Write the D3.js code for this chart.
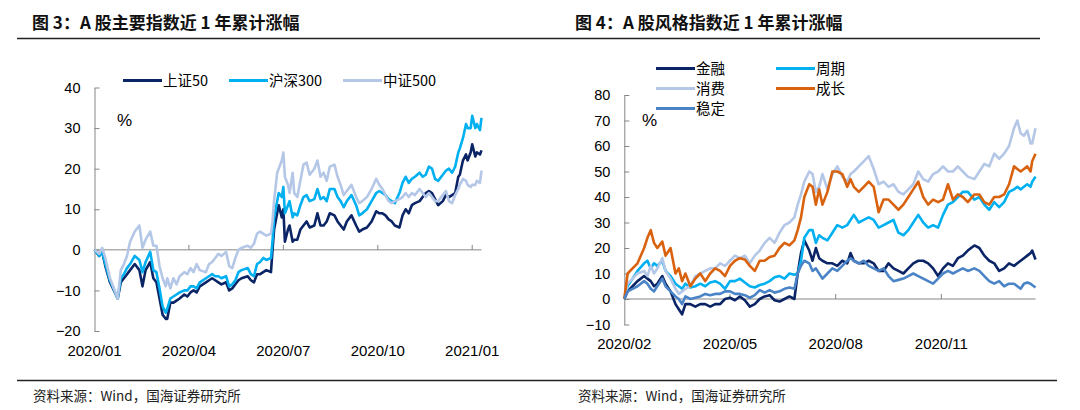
<!DOCTYPE html>
<html><head><meta charset="utf-8">
<script src="https://cdn.jsdelivr.net/npm/d3@7/dist/d3.min.js"></script>
<style>
body{margin:0;background:#fff;}
svg{display:block;}
.tick-label{font-family:Arial,"Liberation Sans",sans-serif;fill:#000;}
.cjk{font-family:"Noto Sans CJK SC","Noto Sans",sans-serif;}
</style></head>
<body>
<svg id="chart" width="1080" height="410"></svg>
<script>
// ---------- Figure 3: trading-day index since 2020-01-02 ----------
const leftDays = [0,3,5,7,10,15,17,19,21,23,26,29,31,33,36,38,40,42,44,46,47,49,51,53,55,58,60,62,64,66,68,72,74,76,78,80,82,85,87,89,91,93,95,99,101,103,105,107,109,111,114,115,116,118,119,121,122,123,125,126,128,129,131,133,135,137,139,142,144,146,148,150,152,155,157,159,161,163,166,169,171,173,176,179,182,184,186,188,190,192,194,197,199,201,203,205,207,210,212,214,216,218,220,222,225,227,229,231,233,235,236,238,240,241,243,244,246,247,249,250];
const sz50 = [0,-1.5,-0.5,-4,-8,-12,-8,-7,-6,-5,-3.5,-5,-9,-5,-3,-7,-8,-12,-16,-17,-17,-13,-13,-12.5,-12,-11,-11.5,-10.5,-10,-10.5,-9,-8,-7.5,-7,-7.5,-8,-8.5,-8,-10,-9.5,-8.5,-7.5,-7,-6.5,-7.5,-8,-6,-6,-5.5,-5,-5.5,0,5,9,11,8,10,2,5,6,2,2.5,2.5,5,6,7,5.5,6,9,6,6,7,9,8.5,7,6,5,7,8.5,6,4.5,5,5.5,7,9.5,9,9,8.5,7.5,7,6,5.5,8.5,10,9,11,11.5,12,13,14,14.5,14,12.5,11,12,13.5,13,13.5,14,18,18.5,22,23.5,22,24,26,23,24,23.5,24.5];
const hs300 = [0,-1.5,-0.5,-3.5,-7.5,-12,-7,-6,-4.5,-3.5,-1.5,-2.5,-5.5,-3,-0.5,-5,-5.5,-9.5,-14,-15.5,-14.5,-12,-11.5,-11,-10.5,-10,-10,-9,-9,-9.5,-8,-7,-6.5,-6,-6.5,-6.5,-7,-6.5,-9,-8.5,-7.5,-5.5,-5,-4.5,-6,-6.5,-3.5,-3,-2,-2.5,-2,2,8,12,14,13,15.5,9,11,12,8,9,8.5,11,13,13.5,12,12.5,15,12.5,13,12,15,15,13,12,10.5,12,13.5,11,8.5,9,10,12,14,14.5,14,13.5,12.5,12,11.5,14,16.5,18,16.5,17.5,18,19,18,18.5,20.5,20,17.5,17,18.5,19.5,20,19,20.5,24,25,27.5,31,30,30,33,30,31,29.5,32.5];
const zz500 = [0,-1,0.5,-2,-7,-12,-5,-3.5,-1.5,2,4.5,6,0.5,2.5,4.5,1,1,-4,-7,-9,-7,-9.5,-7,-8.5,-6.5,-5.5,-6,-4.5,-5.5,-3.5,-5,-5.5,-3.5,-3,-2,-1,-1.5,-0.5,-4,-4.5,-2,0,0.5,1,0.5,1.5,4,4.5,4,3.5,4,7,12,19,20,22,24,18,16,14,19,14,13,17,21,21.5,18.5,20,22,18,19,17,20.5,21,18,16,13.5,14.5,16,13,11.5,12,13,15,17.5,16,15,13.5,12,11.5,12,12.5,13,14,13,14,13.5,15,14,13,14,13,12,12,13.5,14.5,12,11.5,13.5,15,16,17.5,17,16,15.5,16,16,17,16.5,19.5];
const leftTickDays = [0,61,122,183,244];
const leftTickLabels = ["2020/01","2020/04","2020/07","2020/10","2021/01"];
const leftYTicks = [-20,-10,0,10,20,30,40];
const leftNames = ["上证50","沪深300","中证500"];

// ---------- Figure 4: trading-day index since 2020-02-03 ----------
const rightDays = [0,2,5,8,12,14,16,18,20,23,25,28,31,33,35,37,40,43,46,49,52,55,58,61,64,67,70,73,76,79,82,85,88,91,94,97,100,103,105,107,109,112,114,116,118,120,123,126,129,132,135,137,139,142,145,148,151,154,157,160,163,166,169,172,175,178,181,184,187,190,193,196,199,202,205,208,212,215,218,221,224,227,230,233,236,238,240,242,244,246,247,249];
const finance = [0,3,5,7,9,8,7,5,6,9,6,3,-2,-4,-6,-2,-2,-3,-2,-2,-3,-2,-2,0,0.5,-0.5,1,-0.5,-3,-2,0,1,1.5,-0.5,-1,0,1,0,10,18,23,19,15,20,16,15,14,14,13,15,14,18,15,14,14,15,14,11,11,14,12,11,10,12,14,15,15,14,12,9,12,14,13,16,17,19,21,20,17,15,14,11,12,14,13,14,15,16,17,18,19,15.5];
const cyclical = [0,5,8,11,14,15,12,14,13,15,11,9,6,5,4,6,4.5,5,6,5,6.5,7,6,4,7,7,8,6.5,5,4.5,5.5,6,7,8.5,9,8,10,9.5,10,15,24,27,27,22,25,24,23,26,29,28,29,31,33,30,31,32,31,28,29,30,31,26,25,27,30,33,30,28,29,28,33,37,38,40,42,42,39,40,37,35,38,36,38,42,43,44,43,44,45,44,46,48];
const consumer = [0,6,8,10,11,9,13,10,12,16,11,8,4,2,3,4,5,9,10,11,12,12,14,13,15,17,16,17,14,17,19,22,24,22,26,29,30,32,37,41,46,50,49,42,44,49,43,49,52,48,46,49,50,52,54,56,51,45,46,44,45,42,41,43,45,50,47,46,49,50,52,50,50,52,50,48,47,50,53,52,57,55,57,60,67,70,65,64,66,61,61,67];
const growth = [0,10,12,14,20,24,27,22,20,22.5,17,20,10,12,7,10,5,8,10,7,10,12,11,9,13,15,16,15.5,13,11,15,15,16.5,17,20,22,21,23,27,32,40,45,44,37,43,37,42,50,50,49,44,47,44,42,44,46,44,34,39,39,37,35,37,40,43,46,40,37,39,38,39,45,39,41,40,38,41,41,38,37,40,40,41,45,52,51,50,51,52,50,54,57];
const stable = [0,3,4,5,7,6,4,3,5,8,5,3,1,0,-2,1,0,0.5,1,2,1.5,2,2,3,3,2,2,1.5,0.5,1.5,3.5,2.5,3.5,2.5,3,4,4.5,4,10,13,15,14,11,12,10,8,10,12,11,13,15,16,15,14,15,13,12,11,12,9,7,7.5,8,9,10,9,8,7,6,8,10,11,10,11,12,11,12,11,9,7,6,7,5,6,6,5,4,6,6.5,6,5.5,4.5];
const rightTickDays = [0,64,128,192];
const rightTickLabels = ["2020/02","2020/05","2020/08","2020/11"];
const rightYTicks = [-10,0,10,20,30,40,50,60,70,80];
const rightNames = ["金融","周期","消费","成长","稳定"];

const svg = d3.select("#chart");
const AXIS = "#868686";

// ---- titles, rules, sources ----
svg.append("line").attr("x1",17).attr("x2",1040).attr("y1",38.5).attr("y2",38.5)
  .attr("stroke","#222").attr("stroke-width",1.6);
svg.append("line").attr("x1",17).attr("x2",1057).attr("y1",380.5).attr("y2",380.5)
  .attr("stroke","#222").attr("stroke-width",1.6);
[["图 3：A 股主要指数近 1 年累计涨幅",32],["图 4：A 股风格指数近 1 年累计涨幅",575]].forEach(([t,x])=>{
  svg.append("text").attr("class","cjk").attr("x",x).attr("y",29)
    .attr("font-size",17).attr("font-weight",700).attr("fill","#111").text(t);
});
[33,578].forEach(x=>{
  svg.append("text").attr("class","cjk").attr("x",x).attr("y",401)
    .attr("font-size",13.5).attr("fill","#222").text("资料来源：Wind，国海证券研究所");
});

function drawChart(cfg){
  const g = svg.append("g");
  const x = d3.scaleLinear().domain(cfg.xDomain).range(cfg.xRange);
  const y = d3.scaleLinear().domain(cfg.yDomain).range(cfg.yRange);
  // zero line with category ticks (ticks point upward)
  g.append("line").attr("x1",x(cfg.xDomain[0])).attr("x2",x(cfg.xDomain[1]))
    .attr("y1",y(0)).attr("y2",y(0)).attr("stroke",AXIS).attr("stroke-width",1);
  cfg.xTicks.forEach((d,i)=>{
    if(i>0) g.append("line").attr("x1",x(d)).attr("x2",x(d)).attr("y1",y(0)).attr("y2",y(0)-5)
      .attr("stroke",AXIS).attr("stroke-width",1);
    g.append("text").attr("class","tick-label").attr("x",x(d)).attr("y",cfg.xLabelY)
      .attr("text-anchor","middle").attr("font-size",15).text(cfg.xLabels[i]);
  });
  // y axis
  const yAxis = d3.axisLeft(y).tickValues(cfg.yTicks).tickSizeInner(-5).tickSizeOuter(0).tickPadding(14);
  const ya = g.append("g").attr("transform",`translate(${cfg.xRange[0]},0)`).call(yAxis);
  ya.select(".domain").attr("stroke",AXIS);
  ya.selectAll(".tick line").attr("stroke",AXIS);
  ya.selectAll(".tick text").attr("class","tick-label").attr("font-size",14.5)
    .attr("font-family","Arial, 'Liberation Sans', sans-serif").attr("fill","#000");
  // % label
  g.append("text").attr("class","tick-label").attr("x",cfg.pctX).attr("y",126)
    .attr("font-size",17).text("%");
  // lines
  const line = d3.line().x(d=>x(d[0])).y(d=>y(d[1]));
  cfg.series.forEach(s=>{
    g.append("path").datum(cfg.days.map((d,i)=>[d,s.values[i]]))
      .attr("d",line).attr("fill","none").attr("stroke",s.color)
      .attr("stroke-width",2.6).attr("stroke-linejoin","round");
  });
  // legend
  cfg.series.forEach((s,i)=>{
    const [lx,ly] = cfg.legendPos[i];
    g.append("line").attr("x1",lx).attr("x2",lx+39).attr("y1",ly).attr("y2",ly)
      .attr("stroke",s.color).attr("stroke-width",3);
    g.append("text").attr("class","cjk").attr("x",lx+40).attr("y",ly+5.5)
      .attr("font-size",14.5).attr("fill","#000").text(s.name);
  });
}

drawChart({
  xDomain:[0,250], xRange:[94.5,481.5], yDomain:[-20,40], yRange:[331,87.5],
  days:leftDays, xTicks:leftTickDays, xLabels:leftTickLabels, yTicks:leftYTicks, xLabelY:356,
  pctX:117,
  series:[
    {name:leftNames[0],values:sz50,color:"#0b2466"},
    {name:leftNames[1],values:hs300,color:"#00b0f0"},
    {name:leftNames[2],values:zz500,color:"#b4c7e7"}
  ],
  legendPos:[[123,80.5],[229,80.5],[343,80.5]]
});

drawChart({
  xDomain:[0,249], xRange:[624.3,1035.5], yDomain:[-10,80], yRange:[324.5,95],
  days:rightDays, xTicks:rightTickDays, xLabels:rightTickLabels, yTicks:rightYTicks, xLabelY:348.5,
  pctX:642,
  series:[
    {name:rightNames[0],values:finance,color:"#0b2466"},
    {name:rightNames[1],values:cyclical,color:"#00b0f0"},
    {name:rightNames[2],values:consumer,color:"#b4c7e7"},
    {name:rightNames[3],values:growth,color:"#d9620f"},
    {name:rightNames[4],values:stable,color:"#4a84c6"}
  ],
  legendPos:[[656,68.5],[776,68.5],[656,88.5],[776,88.5],[656,108.5]]
});
</script>
</body></html>
